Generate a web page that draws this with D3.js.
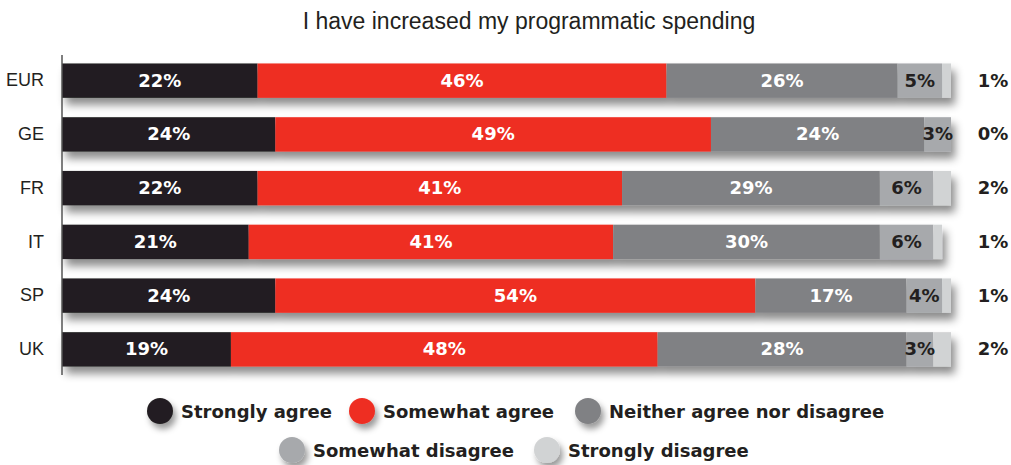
<!DOCTYPE html>
<html><head><meta charset="utf-8">
<script src="https://cdn.jsdelivr.net/npm/d3@7"></script>
<style>body{margin:0;background:#fff;}svg{display:block;}</style>
</head><body>
<svg id="c" width="1011" height="465"></svg>
<script>
const title = "I have increased my programmatic spending";
const categories = ["EUR","GE","FR","IT","SP","UK"];
const seriesNames = ["Strongly agree","Somewhat agree","Neither agree nor disagree","Somewhat disagree","Strongly disagree"];
const stronglyAgree = [22,24,22,21,24,19];
const somewhatAgree = [46,49,41,41,54,48];
const neither = [26,24,29,30,17,28];
const somewhatDisagree = [5,3,6,6,4,3];
const stronglyDisagree = [1,0,2,1,1,2];
const colors = ["#231f20","#ee2e24","#808184","#a7a9ac","#d1d3d4"];
const labelColors = ["#fff","#fff","#fff","#231f20",null];

const svg = d3.select("#c");
const defs = svg.append("defs");
const f = defs.append("filter").attr("id","sh").attr("x","-10%").attr("y","-30%").attr("width","130%").attr("height","190%");
f.append("feDropShadow").attr("dx",4).attr("dy",7).attr("stdDeviation",4.5).attr("flood-color","#000").attr("flood-opacity",0.45);
const f2 = defs.append("filter").attr("id","sh2").attr("x","-50%").attr("y","-50%").attr("width","220%").attr("height","220%");
f2.append("feDropShadow").attr("dx",3).attr("dy",5).attr("stdDeviation",3).attr("flood-color","#000").attr("flood-opacity",0.4);

const font = "'DejaVu Sans', sans-serif";
const x = d3.scaleLinear().domain([0,100]).range([62,951]);
const y = d3.scaleBand().domain(categories).range([57,373]).paddingInner(0.36).paddingOuter(0.12);

svg.append("text").attr("x",529).attr("y",29).attr("text-anchor","middle")
  .attr("font-family","'Liberation Sans', sans-serif").attr("font-size",23).attr("fill","#231f20").text(title);

const series = [stronglyAgree,somewhatAgree,neither,somewhatDisagree,stronglyDisagree];
const rows = categories.map((c,i)=>{ let acc=0; return {cat:c, segs: series.map((s,k)=>{const o={k, v:s[i], x0:acc, x1:acc+s[i]}; acc+=s[i]; return o;})}; });

const g = svg.append("g");
const row = g.selectAll("g.row").data(rows).join("g").attr("class","row");
row.append("g").attr("filter","url(#sh)").selectAll("rect").data(d=>d.segs.map(s=>({...s,cat:d.cat}))).join("rect")
  .attr("x",d=>x(d.x0)).attr("width",d=>x(d.x1)-x(d.x0))
  .attr("y",d=>y(d.cat)).attr("height",y.bandwidth()).attr("fill",d=>colors[d.k]);

row.selectAll("text.v").data(d=>d.segs.filter(s=>s.k<4).map(s=>({...s,cat:d.cat}))).join("text").attr("class","v")
  .attr("x",d=>(x(d.x0)+x(d.x1))/2).attr("y",d=>y(d.cat)+y.bandwidth()/2+6)
  .attr("text-anchor","middle").attr("font-family",font).attr("font-weight","bold").attr("font-size",18)
  .attr("fill",d=>labelColors[d.k]).text(d=>d.v+"%");

row.append("text").attr("x",993).attr("y",d=>y(d.cat)+y.bandwidth()/2+6).attr("text-anchor","middle")
  .attr("font-family",font).attr("font-weight","bold").attr("font-size",18).attr("fill","#231f20")
  .text(d=>d.segs[4].v+"%");

const yAxis = svg.append("g").attr("transform","translate(62,0)")
  .call(d3.axisLeft(y).tickSize(0).tickPadding(18));
yAxis.select(".domain").remove();
yAxis.selectAll("text").attr("font-family","'Liberation Sans', sans-serif").attr("font-size",18).attr("fill","#231f20");
svg.append("line").attr("x1",62).attr("x2",62).attr("y1",55).attr("y2",375).attr("stroke","#555").attr("stroke-width",1.5);

const legendPos = [[160,411],[362,411],[588,411],[292,450],[547,450]];
const lg = svg.selectAll("g.lg").data(seriesNames).join("g").attr("class","lg")
  .attr("transform",(d,i)=>`translate(${legendPos[i][0]},${legendPos[i][1]})`);
lg.append("circle").attr("r",13).attr("fill",(d,i)=>colors[i]).attr("filter","url(#sh2)");
lg.append("text").attr("x",21).attr("y",7).attr("font-family",font).attr("font-weight","bold").attr("font-size",18)
  .attr("fill","#231f20").text(d=>d);
</script>
</body></html>
